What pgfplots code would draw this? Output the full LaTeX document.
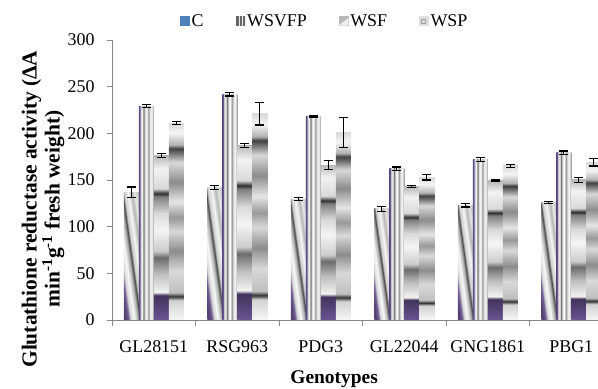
\documentclass[border=0pt]{standalone}
\usepackage{pgfplots}
\usepackage{pgfplotstable}
\pgfplotsset{compat=1.18}
\usepackage{fontspec}
\setmainfont{Liberation Serif}
\definecolor{axisgray}{HTML}{868686}
\definecolor{cblue}{HTML}{4F81BD}

% C: diagonal streaks
\pgfdeclarehorizontalshading{cshade}{100bp}{rgb(0bp)=(0.33,0.25,0.45); rgb(25bp)=(0.33,0.25,0.45); rgb(30bp)=(0.45,0.38,0.58); gray(34bp)=(0.85); gray(40bp)=(0.97); gray(46bp)=(0.7); gray(50bp)=(0.3); gray(53bp)=(0.8); gray(60bp)=(0.96); gray(66bp)=(0.72); gray(71bp)=(0.9); gray(75bp)=(0.8); gray(100bp)=(0.8)}
% WSVFP: vertical stripes
\pgfdeclarehorizontalshading{vshade}{100bp}{rgb(0bp)=(0.35,0.28,0.5); rgb(25bp)=(0.35,0.28,0.5); rgb(28bp)=(0.42,0.35,0.58); gray(31bp)=(0.8); gray(36bp)=(0.95); gray(41bp)=(0.45); gray(45bp)=(0.85); gray(51bp)=(1.0); gray(57bp)=(0.6); gray(62bp)=(0.88); gray(68bp)=(0.96); gray(75bp)=(0.6); gray(100bp)=(0.6)}
% WSF: horizontal bands, dark purple foot
\pgfdeclareverticalshading{fshade}{100bp}{rgb(0bp)=(0.42,0.33,0.58); rgb(25bp)=(0.42,0.33,0.58); rgb(32.5bp)=(0.26,0.2,0.36); gray(33.5bp)=(0.95); gray(39bp)=(0.75); gray(44bp)=(0.42); gray(46bp)=(0.8); gray(52.5bp)=(0.96); gray(57.5bp)=(0.85); gray(62.5bp)=(0.5); gray(63.5bp)=(0.18); gray(65bp)=(0.85); gray(71bp)=(0.95); gray(75bp)=(0.72); gray(100bp)=(0.72)}
% WSP: horizontal bands
\pgfdeclareverticalshading{pshade}{100bp}{gray(0bp)=(0.97); gray(25bp)=(0.97); gray(30bp)=(0.82); gray(31bp)=(0.2); gray(32bp)=(0.75); gray(37.5bp)=(0.85); gray(42.5bp)=(0.55); gray(47.5bp)=(0.85); gray(51bp)=(0.6); gray(55bp)=(0.9); gray(60bp)=(0.55); gray(65bp)=(0.85); gray(68.5bp)=(0.25); gray(69.5bp)=(0.7); gray(72.5bp)=(0.96); gray(75bp)=(0.85); gray(100bp)=(0.85)}

\pgfplotstableread{
x C Ce V Ve F Fe P Pe
0 137 5.5 229 1.5 176 2 211 1.5
1 142 2.5 242 2 187 2 221 12
2 129.6 1.5 218 0.5 166 4.5 201 16
3 119 3 162 2 143 1 153 3
4 123 2 172 2 149 1 165 1.5
5 126 1 179 2 150 3 169 4
}\data

% one bar per plot, so that each bar gets its own shading
\newcommand\barseries[4]{%
  \pgfplotsinvokeforeach{0,...,5}{%
    \addplot[draw=none, #3, bar shift=#4, forget plot,
      x filter/.expression={abs(x-##1)<0.1 ? x : nan}]
      table[x=x, y=#1, y error=#2] {\data};
  }%
}

\begin{document}
\begin{tikzpicture}
\useasboundingbox (0,0) rectangle (598bp,389bp);
\begin{axis}[
  at={(112bp,69bp)}, anchor=south west,
  scale only axis, width=486bp, height=280bp,
  xmin=-0.5, xmax=5.32, ymin=0, ymax=300,
  ytick={0,50,...,300},
  xtick={0,...,5},
  xticklabels={GL28151,RSG963,PDG3,GL22044,GNG1861,PBG1},
  minor xtick={-0.5,0.5,...,4.5},
  axis x line*=bottom, axis y line*=left,
  axis line style={axisgray, line width=0.8bp},
  tick align=outside,
  major x tick style={draw=none},
  minor x tick style={axisgray, line width=0.8bp},
  ytick style={axisgray, line width=0.8bp},
  major tick length=5bp, minor tick length=6bp,
  ybar=0pt, bar width=15bp,
  tick label style={font=\fontsize{18}{20}\selectfont},
  /pgf/number format/assume math mode=true,
  xticklabel style={yshift=-12bp},
  yticklabel style={xshift=-9bp},
  xlabel={Genotypes},
  xlabel style={at={(rel axis cs:0.457,-0.212)}, anchor=center, font=\bfseries\fontsize{19.5}{22}\selectfont},
  ylabel={Glutathione reductase activity (ΔA\\min\textsuperscript{-1}g\textsuperscript{-1} fresh weight)},
  ylabel style={at={(rel axis cs:-0.142,0.396)}, anchor=center, align=center, font=\bfseries\fontsize{21.5}{23}\selectfont},
  legend style={draw=none, fill=none, at={(rel axis cs:0.438,1.068)}, anchor=center,
    legend columns=-1, font=\fontsize{18}{20}\selectfont,
    /tikz/every even column/.append style={column sep=30bp}},
  error bars/y dir=both, error bars/y explicit,
  error bars/error bar style={black, line width=1.2bp},
  error bars/error mark options={rotate=90, black, mark size=4.5bp, line width=1.2bp},
]
\barseries{C}{Ce}{shading=cshade, shading angle=8}{-22.5bp}
\barseries{V}{Ve}{shading=vshade}{-7.5bp}
\barseries{F}{Fe}{shading=fshade}{7.5bp}
\barseries{P}{Pe}{shading=pshade}{22.5bp}
\addlegendimage{legend image code/.code={\fill[cblue] (0bp,-4.5bp) rectangle (9bp,4.5bp);}}
\addlegendentry{C}
\addlegendimage{legend image code/.code={\fill[gray!15] (0bp,-4.5bp) rectangle (9bp,4.5bp);
    \fill[black!60] (0.8bp,-4.5bp) rectangle (2bp,4.5bp);
    \fill[black!60] (3.9bp,-4.5bp) rectangle (5.1bp,4.5bp);
    \fill[black!60] (7bp,-4.5bp) rectangle (8.2bp,4.5bp);}}
\addlegendentry{WSVFP}
\addlegendimage{legend image code/.code={\fill[gray!55] (0bp,-4.5bp) rectangle (9bp,4.5bp);
    \fill[gray!12] (0bp,-4.5bp) -- (9bp,2.5bp) -- (9bp,-4.5bp) -- cycle;}}
\addlegendentry{WSF}
\addlegendimage{legend image code/.code={\fill[gray!25] (0bp,-4.5bp) rectangle (9bp,4.5bp);
    \draw[gray!75, line width=0.8bp] (2.5bp,-2bp) rectangle (6.5bp,2bp);}}
\addlegendentry{WSP}
\end{axis}
\end{tikzpicture}
\end{document}
